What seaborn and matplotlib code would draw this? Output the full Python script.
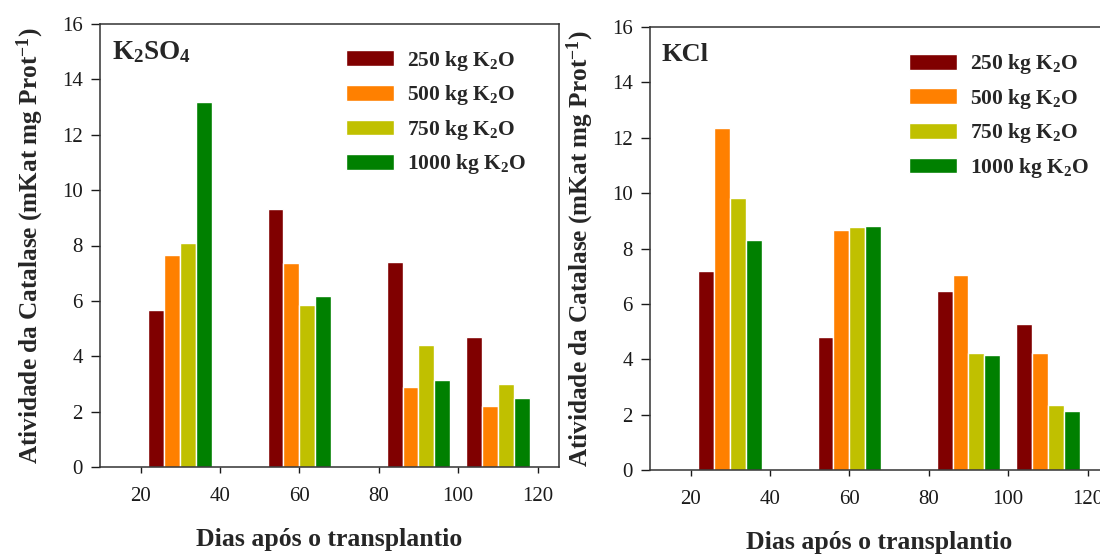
import numpy as np
import pandas as pd
import matplotlib
matplotlib.use("Agg")
import matplotlib.pyplot as plt
from matplotlib.patches import Patch
import seaborn as sns

# Sampling dates (days after transplanting) and K2O doses
days = [30, 60, 90, 110]
doses = ["250", "500", "750", "1000"]
dose_labels = ["250 kg K$_2$O", "500 kg K$_2$O", "750 kg K$_2$O", "1000 kg K$_2$O"]
dose_colors = ["#800000", "#FF8000", "#C0C000", "#008000"]

# Catalase activity, one list per dose, ordered by sampling date
k2so4_250 = [5.67, 9.33, 7.42, 4.71]
k2so4_500 = [7.66, 7.38, 2.89, 2.22]
k2so4_750 = [8.09, 5.86, 4.39, 2.99]
k2so4_1000 = [13.18, 6.16, 3.14, 2.48]

kcl_250 = [7.17, 4.81, 6.47, 5.27]
kcl_500 = [12.35, 8.67, 7.05, 4.24]
kcl_750 = [9.81, 8.76, 4.24, 2.35]
kcl_1000 = [8.31, 8.82, 4.15, 2.12]

y_ticks = [0, 2, 4, 6, 8, 10, 12, 14, 16]
x_ticks = [20, 40, 60, 80, 100, 120]
x_label = "Dias após o transplantio"
y_label = "Atividade da Catalase (mKat mg Prot$^{-1}$)"


def long_table(series):
    rows = []
    for dose, vals in zip(doses, series):
        for d, v in zip(days, vals):
            rows.append({"dia": d, "dose": dose, "atividade": v})
    return pd.DataFrame(rows)


df_k2so4 = long_table([k2so4_250, k2so4_500, k2so4_750, k2so4_1000])
df_kcl = long_table([kcl_250, kcl_500, kcl_750, kcl_1000])

sns.set_theme(style="ticks")
plt.rcParams["font.family"] = ["Liberation Serif", "DejaVu Serif"]
plt.rcParams["mathtext.fontset"] = "custom"
plt.rcParams["mathtext.rm"] = "Liberation Serif:bold"
plt.rcParams["mathtext.bf"] = "Liberation Serif:bold"
plt.rcParams["mathtext.it"] = "Liberation Serif:bold:italic"
plt.rcParams["mathtext.default"] = "rm"

fig = plt.figure(figsize=(11, 5.57), dpi=100)
W, H = 1100, 557
ax1 = fig.add_axes([100 / W, 1 - 467 / H, 459 / W, 443 / H])
ax2 = fig.add_axes([650 / W, 1 - 470 / H, 459 / W, 443 / H])

palette = dict(zip(doses, dose_colors))


def draw_panel(ax, df, title, title_size, legend_x, legend_y):
    sns.barplot(
        data=df, x="dia", y="atividade", hue="dose", hue_order=doses,
        palette=palette, native_scale=True, width=0.8, dodge=True,
        edgecolor="white", linewidth=1.0, saturation=1, errorbar=None,
        legend=False, ax=ax,
    )
    ax.set_xlim(9.8, 125.4)
    ax.set_ylim(0, 16)
    ax.set_xticks(x_ticks)
    ax.set_yticks(y_ticks)
    ax.set_xticklabels([str(t) for t in x_ticks])
    ax.set_yticklabels([str(t) for t in y_ticks])
    ax.tick_params(axis="y", direction="out", length=6.5, width=1.0,
                   pad=6, labelsize=15, colors="#1a1a1a")
    ax.tick_params(axis="x", direction="out", length=4.5, width=1.0,
                   pad=10, labelsize=15, colors="#1a1a1a")
    for s in ax.spines.values():
        s.set_visible(True)
        s.set_color("#333333")
        s.set_linewidth(1.1)
    ax.set_xlabel(x_label, fontsize=18.5, fontweight="bold", labelpad=16)
    ax.set_ylabel(y_label, fontsize=18.2, fontweight="bold", labelpad=11)
    ax.text(0.026, 0.965, title, transform=ax.transAxes, fontsize=title_size,
            fontweight="bold", ha="left", va="top")
    handles = [Patch(facecolor=c, edgecolor="white", linewidth=1.0)
               for c in dose_colors]
    ax.legend(handles, dose_labels, loc="upper left",
              bbox_to_anchor=(legend_x, legend_y), frameon=False,
              prop={"weight": "bold", "size": 15.5},
              handlelength=2.2, handleheight=0.75, handletextpad=0.6,
              labelspacing=0.49, borderpad=0, borderaxespad=0)


draw_panel(ax1, df_k2so4, "K$_2$SO$_4$", 19.5, 0.537, 0.944)
draw_panel(ax2, df_kcl, "KCl", 19, 0.565, 0.943)

fig.savefig("out.png", dpi=100)
